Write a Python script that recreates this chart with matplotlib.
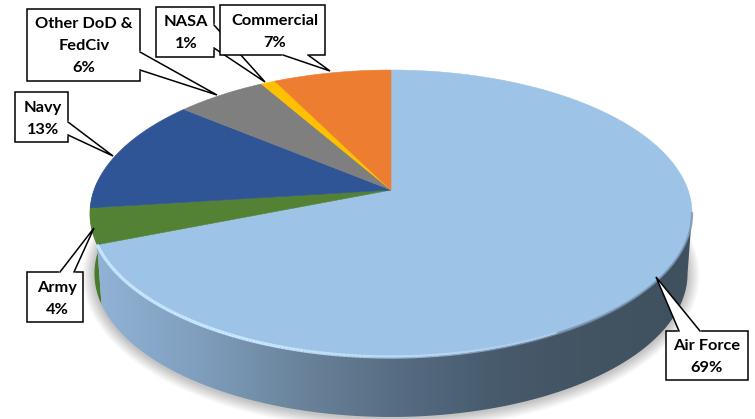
import numpy as np
import matplotlib
matplotlib.use("Agg")
import matplotlib.pyplot as plt
from matplotlib.patches import Polygon, Rectangle
from matplotlib.collections import LineCollection

#######################################
# DATA

categories = ["Air Force", "Army", "Navy", "Other DoD &\nFedCiv", "NASA", "Commercial"]
shares = [69.0, 4.0, 13.0, 5.7, 0.9, 7.4]
share_labels = ["69%", "4%", "13%", "6%", "1%", "7%"]
colors = ["#9DC3E6", "#548235", "#2F5597", "#7F7F7F", "#FFC000", "#ED7D31"]

#######################################
# PIE GEOMETRY (tilted disc seen in perspective, pixel coordinates)

CX = 391
CY = 190
R = 297
PERSP = 0.1638
DEPTH = 60
LOWER_SCALE = 0.985
SILHOUETTE = 0.276  # frac where the right edge of the disc is widest


def rim(frac):
    # frac runs clockwise from 12 o'clock, 0 to 1
    t = 2 * np.pi * np.asarray(frac)
    u, v = np.sin(t), np.cos(t)
    w = 1 + PERSP * v
    return CX + R * u / w, (CY - 108.5 * v) / w


def wall(f):
    # outline of the side wall under the rim between the fracs in f
    x, y = rim(f)
    xl = CX + (x - CX) * LOWER_SCALE
    return np.r_[np.c_[x, y], np.c_[xl, y + DEPTH][::-1]]


edges = np.cumsum([0] + shares) / sum(shares)

plt.rcParams["font.family"] = ["Lato", "DejaVu Sans"]
fig = plt.figure(figsize=(7.55, 4.19), dpi=100)
ax = fig.add_axes([0, 0, 1, 1])
ax.set_xlim(0, 755)
ax.set_ylim(419, 0)
ax.axis("off")

#######################################
# SOFT SHADOW

ang = np.linspace(0, 1, 361)
xr, yr = rim(ang)
for grow in range(12, 0, -1):
    sx = CX + (xr - CX) * (LOWER_SCALE + grow / 300)
    sy = 265 + (yr + DEPTH - 265) * (1 + grow / 150) + 1
    ax.add_patch(Polygon(np.c_[sx, sy], fc="black", ec="none", alpha=0.018, zorder=1))

#######################################
# SIDE WALL

# army side shows behind the air force wall on the left
ax.add_patch(Polygon(wall(np.linspace(0.69, 0.76, 40)), fc="#4A7A2C", ec="none", zorder=2))

side = Polygon(wall(np.linspace(SILHOUETTE, 0.69, 300)), fc="none", ec="none", zorder=3)
ax.add_patch(side)

stop_x = [97, 200, 300, 400, 500, 600, 693]
stop_c = np.array([[0x92, 0xB3, 0xD6], [0x7F, 0x9E, 0xBD], [0x6A, 0x83, 0x9B],
                   [0x56, 0x6C, 0x82], [0x47, 0x5A, 0x6C], [0x42, 0x53, 0x61],
                   [0x3F, 0x50, 0x5E]]) / 255
gx = np.arange(90, 700)
grad = np.stack([np.interp(gx, stop_x, stop_c[:, i]) for i in range(3)], axis=1)[None, :, :]
im = ax.imshow(grad, extent=[90, 700, 419, 200], aspect="auto", zorder=3)
im.set_clip_path(side)
ax.set_xlim(0, 755)
ax.set_ylim(419, 0)

#######################################
# TOP FACE

for i, c in enumerate(colors):
    f = np.linspace(edges[i], edges[i + 1], 200)
    x, y = rim(f)
    pts = np.r_[[[CX, CY]], np.c_[x, y]]
    ax.add_patch(Polygon(pts, fc=c, ec=c, lw=0.4, zorder=4))

# bevel along the air force rim, bright on the left and fading to the right
fb = np.linspace(0.33, 0.69, 200)
xb, yb = rim(fb)
segs = np.stack([np.c_[xb[:-1], yb[:-1]], np.c_[xb[1:], yb[1:]]], axis=1)
rgba = np.zeros((len(segs), 4))
rgba[:, :3] = matplotlib.colors.to_rgb("#C8E6FF")
rgba[:, 3] = np.clip((fb[:-1] - 0.36) / 0.2, 0, 1)
ax.add_collection(LineCollection(segs, colors=rgba, linewidths=2.4, zorder=5))

fb2 = np.linspace(SILHOUETTE, 0.42, 100)
xb2, yb2 = rim(fb2)
ax.plot(xb2, yb2, color="#6F8DA8", lw=1.6, alpha=0.7, zorder=5)

#######################################
# CALLOUTS  (box x0, y0, x1, y1, pointer base a, pointer base b, tip, text x, text y)

callouts = {
    "Other DoD &\nFedCiv": ((27, 9, 140, 81), (140, 52), (140, 70), (217, 95), 84, 46),
    "NASA": ((156, 7, 214, 57), (214, 25), (214, 48), (265, 82), 186, 33),
    "Commercial": ((220, 5, 325, 55), (283, 55), (308, 55), (330, 71), 275, 32),
    "Navy": ((15, 92, 68, 142), (68, 122), (68, 135), (113, 156), 43, 119),
    "Army": ((27, 272, 83, 322), (60, 272), (74, 272), (94, 228), 57, 299),
    "Air Force": ((666, 331, 748, 380), (679, 331), (700, 331), (656, 277), 707, 357),
}

for n, name in enumerate(categories):
    box, a, b, tip, tx, ty = callouts[name]
    z = 10 + n if name != "Commercial" else 30
    ax.add_patch(Rectangle((box[0], box[1]), box[2] - box[0], box[3] - box[1],
                           fc="white", ec="black", lw=1.1, zorder=z))
    ax.add_patch(Polygon([a, tip, b], fc="white", ec="none", zorder=z + 0.1))
    ax.plot([a[0], tip[0], b[0]], [a[1], tip[1], b[1]], color="black", lw=1.1,
            zorder=z + 0.2, solid_joinstyle="miter")
    ax.plot([a[0], b[0]], [a[1], b[1]], color="white", lw=1.6, zorder=z + 0.15)
    ax.text(tx, ty, name + "\n" + share_labels[n], ha="center", va="center",
            fontsize=11.8, fontweight="bold", color="black", linespacing=1.7, zorder=z + 0.3)

plt.savefig("out.png", dpi=100)
